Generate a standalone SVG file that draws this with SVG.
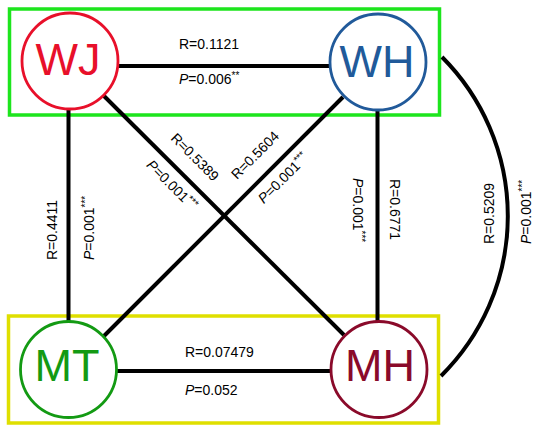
<svg xmlns="http://www.w3.org/2000/svg" width="536" height="433" viewBox="0 0 536 433">
<style>
.lbl{font-family:"Liberation Sans",Arial,sans-serif;font-size:14px;fill:#000}
.it{font-style:italic}
.sup{font-size:10px}
.node{fill:#fff;stroke-width:2.8}
.nt{font-family:"Liberation Sans",Arial,sans-serif;font-size:45px;text-anchor:middle}
.edge{stroke:#000;stroke-width:4;fill:none}
</style>
<rect width="536" height="433" fill="#fff"/>
<rect x="9.5" y="9" width="430" height="106" fill="none" stroke="#1de51d" stroke-width="3.5"/>
<rect x="8.5" y="316" width="430" height="107" fill="none" stroke="#dfdf00" stroke-width="3.5"/>
<g id="connectors">
<line class="edge" x1="118" y1="66" x2="330" y2="66"/>
<line class="edge" x1="117" y1="371" x2="331" y2="371"/>
<line class="edge" x1="68.5" y1="109" x2="68.5" y2="321"/>
<line class="edge" x1="377.5" y1="110" x2="377.5" y2="321"/>
<line class="edge" x1="104" y1="96" x2="344" y2="335"/>
<line class="edge" x1="343" y1="97" x2="103" y2="337"/>
<path class="edge" d="M442,57 A225,225 0 0 1 441,376"/>
</g>
<g id="labels" class="lbl">
<text x="179" y="49">R=0.1121</text>
<text x="179" y="84"><tspan class="it">P</tspan>=0.006<tspan class="sup" dy="-5">**</tspan></text>
<text x="185" y="357">R=0.07479</text>
<text x="185" y="395"><tspan class="it">P</tspan>=0.052</text>
<text transform="translate(57,260) rotate(-90)">R=0.4411</text>
<text transform="translate(94,260) rotate(-90)"><tspan class="it">P</tspan>=0.001<tspan class="sup" dy="-5">***</tspan></text>
<text transform="translate(390,179) rotate(90)">R=0.6771</text>
<text transform="translate(353,178) rotate(90)"><tspan class="it">P</tspan>=0.001<tspan class="sup" dy="-5">***</tspan></text>
<text transform="translate(494,244) rotate(-90)">R=0.5209</text>
<text transform="translate(531,244) rotate(-90)"><tspan class="it">P</tspan>=0.001<tspan class="sup" dy="-5">***</tspan></text>
<text text-anchor="middle" transform="translate(191.5,160.5) rotate(45)">R=0.5389</text>
<text text-anchor="middle" transform="translate(168.5,188.5) rotate(45)"><tspan class="it">P</tspan>=0.001<tspan class="sup" dy="-5">***</tspan></text>
<text text-anchor="middle" transform="translate(258.5,158.5) rotate(-45)">R=0.5604</text>
<text text-anchor="middle" transform="translate(286.5,181.5) rotate(-45)"><tspan class="it">P</tspan>=0.001<tspan class="sup" dy="-5">***</tspan></text>
</g>
<g id="WJ">
<circle class="node" cx="70" cy="61" r="48" stroke="#e8102a"/>
<text class="nt" x="68" y="75" fill="#e8102a">WJ</text>
</g>
<g id="WH">
<circle class="node" cx="378" cy="62" r="48" stroke="#215a9a"/>
<text class="nt" x="377" y="77" fill="#215a9a">WH</text>
</g>
<g id="MT">
<circle class="node" cx="68.5" cy="369.5" r="48" stroke="#139a13"/>
<text class="nt" x="67" y="381" fill="#139a13">MT</text>
</g>
<g id="MH">
<circle class="node" cx="379" cy="369.5" r="48" stroke="#8a0a2a"/>
<text class="nt" x="380" y="381" fill="#8a0a2a">MH</text>
</g>
</svg>
